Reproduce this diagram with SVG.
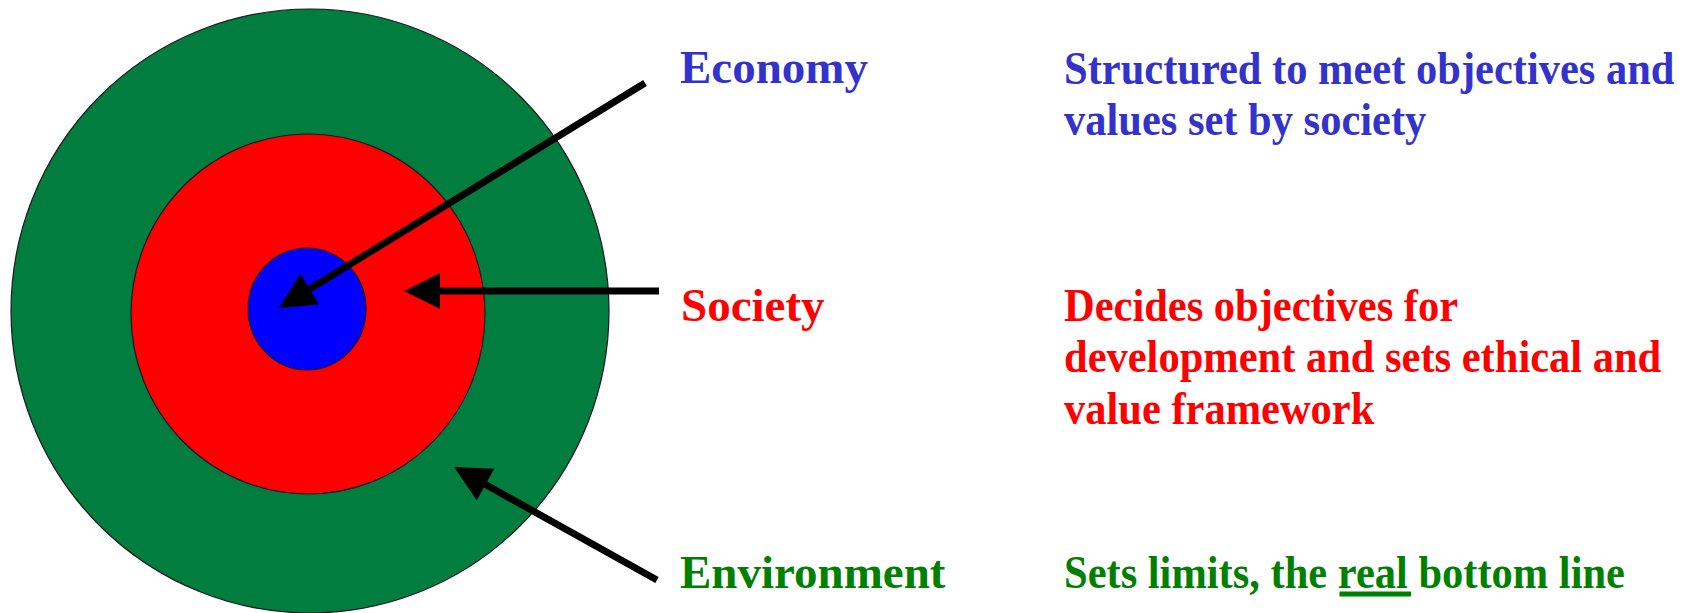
<svg xmlns="http://www.w3.org/2000/svg" width="1695" height="613" viewBox="0 0 1695 613">
  <style>
    .ring { stroke: #1a1a1a; stroke-width: 1.2; }
    .lbl { font-family: "Liberation Serif", "Times New Roman", serif; font-weight: bold; font-size: 47px; }
    .desc { font-family: "Liberation Serif", "Times New Roman", serif; font-weight: bold; font-size: 42.5px; }
    .eco { fill: #3333CC; }
    .soc { fill: #FF0000; }
    .env { fill: #008000; }
    .conn { stroke: #000; stroke-width: 7; fill: none; marker-end: url(#head); }
  </style>
  <defs>
    <marker id="head" markerUnits="userSpaceOnUse" markerWidth="38" markerHeight="38" refX="0" refY="18" orient="auto" overflow="visible">
      <path d="M0,0 L36,18 L0,36 z" fill="#000"/>
    </marker>
  </defs>
  <rect width="1695" height="613" fill="#fff"/>

  <g id="environment-circle">
    <ellipse class="ring" cx="310" cy="311" rx="299" ry="302" fill="#017D3F"/>
  </g>
  <g id="society-circle">
    <ellipse class="ring" cx="308" cy="314" rx="177" ry="180" fill="#FF0000"/>
  </g>
  <g id="economy-circle">
    <ellipse class="ring" cx="307" cy="309" rx="59" ry="61" fill="#0000FF"/>
  </g>

  <g id="connectors">
    <line class="conn" x1="645" y1="83" x2="309.7" y2="289.1"/>
    <line class="conn" x1="659" y1="291" x2="440" y2="291"/>
    <line class="conn" x1="657" y1="580" x2="485.5" y2="484.5"/>
  </g>

  <g id="economy-label">
    <text class="lbl eco" x="680" y="83">Economy</text>
  </g>
  <g id="economy-desc">
    <text class="desc eco" transform="translate(1064,84) scale(1,1.106)">Structured to meet objectives and</text>
    <text class="desc eco" transform="translate(1064,135) scale(1,1.106)">values set by society</text>
  </g>

  <g id="society-label">
    <text class="lbl soc" x="681" y="321">Society</text>
  </g>
  <g id="society-desc">
    <text class="desc soc" transform="translate(1064,320.5) scale(1,1.106)">Decides objectives for</text>
    <text class="desc soc" transform="translate(1064,372) scale(1,1.106)">development and sets ethical and</text>
    <text class="desc soc" transform="translate(1064,423.5) scale(1,1.106)">value framework</text>
  </g>

  <g id="environment-label">
    <text class="lbl env" x="680" y="588">Environment</text>
  </g>
  <g id="environment-desc">
    <text class="desc env" transform="translate(1064,588) scale(1,1.106)">Sets limits, the real bottom line</text>
    <rect x="1339.5" y="591.5" width="71.5" height="5" fill="#008000"/>
  </g>
</svg>
